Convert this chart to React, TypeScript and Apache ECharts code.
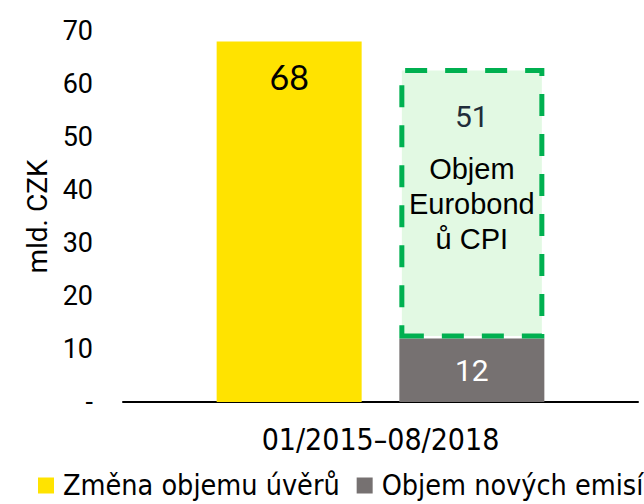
import React, { useEffect, useRef } from "react";
import * as echarts from "echarts";

const categories = ["01/2015–08/2018"];
const loansChange = [68];
const newIssues = [12];
const eurobondCpi = [51];
const legendNames = ["Změna objemu úvěrů", "Objem nových emisí"];
const eurobondName = "Objem Eurobondů CPI";
const yTicks = { min: 0, max: 70, interval: 10 };

export default function App() {
  const ref = useRef<HTMLDivElement>(null);
  useEffect(() => {
    const chart = echarts.init(ref.current!, null, { renderer: "svg" });
    const narrow = "'Liberation Sans Narrow', 'DejaVu Sans Condensed', 'Roboto', sans-serif";
    chart.setOption({
      animation: false,
      backgroundColor: "#ffffff",
      grid: { left: 123, right: 6, top: 31, bottom: 102 },
      legend: {
        left: 33,
        top: 466,
        width: 2000,
        data: legendNames,
        icon: "rect",
        itemWidth: 16,
        itemHeight: 16,
        itemGap: 17,
        textStyle: { fontFamily: narrow, fontSize: 28.5, color: "#000", padding: [0, 0, 0, 4] },
      },
      xAxis: {
        type: "category",
        data: categories,
        axisLine: { lineStyle: { color: "#000", width: 2 } },
        axisTick: { show: false },
        axisLabel: { fontFamily: narrow, fontSize: 30, color: "#000", margin: 22 },
      },
      yAxis: {
        type: "value",
        min: yTicks.min,
        max: yTicks.max,
        interval: yTicks.interval,
        name: "mld. CZK",
        nameLocation: "middle",
        nameGap: 62,
        nameRotate: 90,
        nameTextStyle: { fontFamily: "'Roboto', 'Liberation Sans', sans-serif", fontSize: 28, color: "#000" },
        axisLine: { show: false },
        axisTick: { show: false },
        splitLine: { show: false },
        axisLabel: {
          fontFamily: "'Roboto', 'Liberation Sans', sans-serif",
          fontSize: 27,
          color: "#000",
          margin: 30,
          formatter: (v: number) => (v === 0 ? "-" : String(v)),
        },
      },
      series: [
        {
          name: legendNames[0],
          type: "bar",
          stack: "a",
          data: loansChange,
          barWidth: 145,
          barGap: "26%",
          itemStyle: { color: "#FFE300" },
          label: {
            show: true,
            position: "insideTop",
            distance: 18,
            fontFamily: "'Lato', 'Open Sans', sans-serif",
            fontSize: 34,
            color: "#000",
          },
        },
        {
          name: legendNames[1],
          type: "bar",
          stack: "b",
          data: newIssues,
          barWidth: 145,
          itemStyle: { color: "#767171" },
          label: {
            show: true,
            position: "inside",
            fontFamily: "'Roboto', sans-serif",
            fontSize: 30,
            color: "#fff",
          },
        },
        {
          name: eurobondName,
          type: "bar",
          stack: "b",
          data: eurobondCpi,
          barWidth: 145,
          itemStyle: {
            color: "#E2F9E3",
            borderColor: "#00B050",
            borderWidth: 5,
            borderType: [22, 18],
          },
          label: {
            show: true,
            position: "insideTop",
            distance: 13,
            formatter: (p: any) => `{v|${p.value}}\n{t|Objem}\n{t|Eurobond}\n{t|ů CPI}`,
            rich: {
              v: { fontFamily: "'Roboto', sans-serif", fontSize: 30, color: "#1F2D3A", lineHeight: 70 },
              t: { fontFamily: "'Liberation Sans', Arial, sans-serif", fontSize: 29, color: "#000", lineHeight: 35 },
            },
          },
        },
      ],
    });
    return () => chart.dispose();
  }, []);
  return (
    <div
      ref={ref}
      style={{ position: "absolute", left: 0, top: 0, width: 644, height: 504 }}
    />
  );
}
